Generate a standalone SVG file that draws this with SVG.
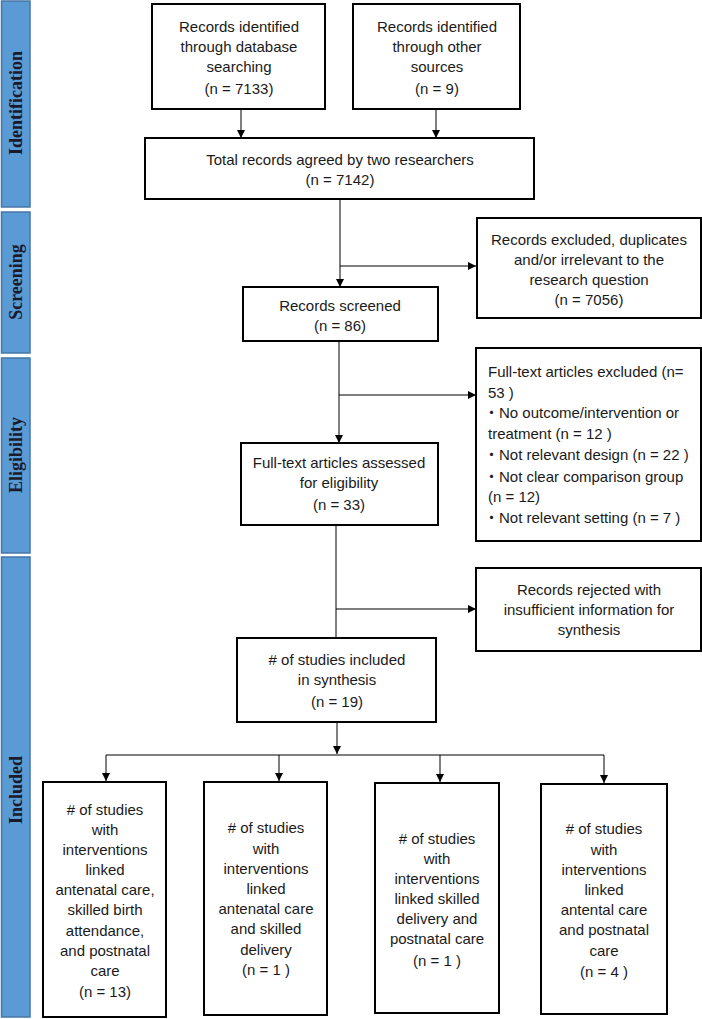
<svg xmlns="http://www.w3.org/2000/svg" width="702" height="1019" viewBox="0 0 702 1019">
<style>
.bg{fill:#ffffff}
.bar{fill:#5b9bd5;stroke:#4676a8;stroke-width:1.5}
.bt{font-family:"Liberation Serif","Times New Roman",serif;font-weight:bold;font-size:18px;fill:#1a1a2e;text-anchor:middle}
.box{fill:#ffffff;stroke:#000000;stroke-width:2}
.t{font-family:"Liberation Sans","Noto Sans CJK JP",Arial,sans-serif;font-size:15px;fill:#1a1a1a;text-anchor:middle}
.tl{font-family:"Liberation Sans","Noto Sans CJK JP",Arial,sans-serif;font-size:15px;fill:#1a1a1a}
.c{fill:none;stroke:#000000;stroke-width:1}
</style>
<defs>
<marker id="ah" viewBox="0 0 10 10" refX="10" refY="5" markerWidth="8" markerHeight="8" markerUnits="userSpaceOnUse" orient="auto">
<path d="M0,0 L10,5 L0,10 Z" fill="#000000"/>
</marker>
</defs>
<rect class="bg" x="0" y="0" width="702" height="1019"/>

<g id="phases">
<g id="phase-identification"><rect class="bar" x="1.5" y="1" width="28.5" height="206"/><text class="bt" transform="translate(22,103) rotate(-90)">Identification</text></g>
<g id="phase-screening"><rect class="bar" x="1.5" y="212" width="28.5" height="141"/><text class="bt" transform="translate(22,282) rotate(-90)">Screening</text></g>
<g id="phase-eligibility"><rect class="bar" x="1.5" y="358" width="28.5" height="195"/><text class="bt" transform="translate(22,455) rotate(-90)">Eligibility</text></g>
<g id="phase-included"><rect class="bar" x="1.5" y="557" width="28.5" height="460"/><text class="bt" transform="translate(22,790) rotate(-90)">Included</text></g>
</g>

<g id="connectors">
<line class="c" x1="241" y1="109" x2="241" y2="138" marker-end="url(#ah)"/>
<line class="c" x1="436" y1="109" x2="436" y2="138" marker-end="url(#ah)"/>
<line class="c" x1="340" y1="199" x2="340" y2="287" marker-end="url(#ah)"/>
<line class="c" x1="340" y1="266" x2="476" y2="266" marker-end="url(#ah)"/>
<line class="c" x1="339" y1="341" x2="339" y2="443" marker-end="url(#ah)"/>
<line class="c" x1="339" y1="395" x2="476" y2="395" marker-end="url(#ah)"/>
<line class="c" x1="336" y1="525" x2="336" y2="638"/>
<line class="c" x1="336" y1="609" x2="476" y2="609" marker-end="url(#ah)"/>
<line class="c" x1="337" y1="722" x2="337" y2="754" marker-end="url(#ah)"/>
<polyline class="c" points="106,755 604,755 604,783" marker-end="url(#ah)"/>
<line class="c" x1="106" y1="755" x2="106" y2="781" marker-end="url(#ah)"/>
<line class="c" x1="279" y1="755" x2="279" y2="781" marker-end="url(#ah)"/>
<line class="c" x1="440" y1="755" x2="440" y2="782" marker-end="url(#ah)"/>
</g>

<g id="n-database">
<rect class="box" x="152" y="4" width="173" height="105"/>
<text class="t" x="239" y="32">Records identified</text>
<text class="t" x="239" y="52">through  database</text>
<text class="t" x="239" y="72">searching</text>
<text class="t" x="239" y="94">(n = 7133)</text>
</g>

<g id="n-other">
<rect class="box" x="353" y="4" width="167" height="105"/>
<text class="t" x="437" y="32">Records identified</text>
<text class="t" x="437" y="52">through  other</text>
<text class="t" x="437" y="72">sources</text>
<text class="t" x="437" y="94">(n = 9)</text>
</g>

<g id="n-total">
<rect class="box" x="145" y="138" width="389" height="61"/>
<text class="t" x="340" y="165">Total records agreed by two researchers</text>
<text class="t" x="340" y="185">(n = 7142)</text>
</g>

<g id="n-excluded-dup">
<rect class="box" x="477" y="218" width="224" height="100"/>
<text class="t" x="589" y="245">Records excluded, duplicates</text>
<text class="t" x="589" y="265">and/or irrelevant  to the</text>
<text class="t" x="589" y="285">research question</text>
<text class="t" x="589" y="305">(n = 7056)</text>
</g>

<g id="n-screened">
<rect class="box" x="243" y="287" width="195" height="54"/>
<text class="t" x="340" y="311">Records screened</text>
<text class="t" x="340" y="331">(n = 86)</text>
</g>

<g id="n-fulltext-excluded">
<rect class="box" x="476" y="348" width="225" height="193"/>
<text class="tl" x="488" y="377">Full-text articles excluded (n=</text>
<text class="tl" x="488" y="398">53 )</text>
<text class="tl" x="484" y="418">・No outcome/intervention  or</text>
<text class="tl" x="488" y="439">treatment (n = 12 )</text>
<text class="tl" x="484" y="460">・Not relevant design (n = 22 )</text>
<text class="tl" x="484" y="482">・Not clear comparison group</text>
<text class="tl" x="488" y="502">(n = 12)</text>
<text class="tl" x="484" y="523">・Not relevant setting (n = 7 )</text>
</g>

<g id="n-assessed">
<rect class="box" x="241" y="443" width="197" height="82"/>
<text class="t" x="339" y="468">Full-text articles assessed</text>
<text class="t" x="339" y="488">for eligibility</text>
<text class="t" x="339" y="510">(n = 33)</text>
</g>

<g id="n-rejected">
<rect class="box" x="476" y="568" width="225" height="83"/>
<text class="t" x="589" y="595">Records rejected with</text>
<text class="t" x="589" y="615">insufficient information for</text>
<text class="t" x="589" y="635">synthesis</text>
</g>

<g id="n-included">
<rect class="box" x="237" y="638" width="199" height="84"/>
<text class="t" x="337" y="665"># of studies included</text>
<text class="t" x="337" y="685">in  synthesis</text>
<text class="t" x="337" y="707">(n = 19)</text>
</g>

<g id="n-b1">
<rect class="box" x="43" y="782" width="123" height="235"/>
<text class="t" x="105" y="815"># of studies</text>
<text class="t" x="105" y="835">with</text>
<text class="t" x="105" y="855">interventions</text>
<text class="t" x="105" y="875">linked</text>
<text class="t" x="105" y="895">antenatal care,</text>
<text class="t" x="105" y="915">skilled birth</text>
<text class="t" x="105" y="936">attendance,</text>
<text class="t" x="105" y="956">and postnatal</text>
<text class="t" x="105" y="976">care</text>
<text class="t" x="105" y="997">(n = 13)</text>
</g>

<g id="n-b2">
<rect class="box" x="204" y="782" width="123" height="233"/>
<text class="t" x="266" y="833"># of studies</text>
<text class="t" x="266" y="854">with</text>
<text class="t" x="266" y="874">interventions</text>
<text class="t" x="266" y="894">linked</text>
<text class="t" x="266" y="914">antenatal care</text>
<text class="t" x="266" y="934">and skilled</text>
<text class="t" x="266" y="955">delivery</text>
<text class="t" x="266" y="975">(n = 1 )</text>
</g>

<g id="n-b3">
<rect class="box" x="375" y="783" width="124" height="230"/>
<text class="t" x="437" y="844"># of studies</text>
<text class="t" x="437" y="864">with</text>
<text class="t" x="437" y="884">interventions</text>
<text class="t" x="437" y="904">linked skilled</text>
<text class="t" x="437" y="924">delivery and</text>
<text class="t" x="437" y="944">postnatal care</text>
<text class="t" x="437" y="966">(n = 1 )</text>
</g>

<g id="n-b4">
<rect class="box" x="541" y="784" width="126" height="230"/>
<text class="t" x="604" y="834"># of studies</text>
<text class="t" x="604" y="855">with</text>
<text class="t" x="604" y="875">interventions</text>
<text class="t" x="604" y="895">linked</text>
<text class="t" x="604" y="915">antental care</text>
<text class="t" x="604" y="935">and postnatal</text>
<text class="t" x="604" y="956">care</text>
<text class="t" x="604" y="977">(n = 4 )</text>
</g>
</svg>
